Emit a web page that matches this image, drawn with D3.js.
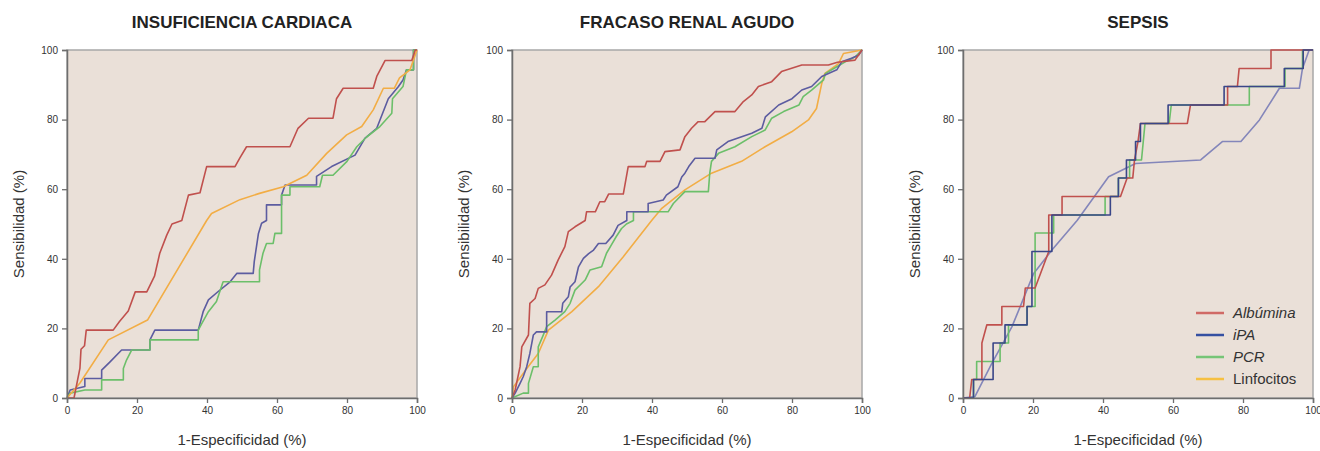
<!DOCTYPE html>
<html>
<head>
<meta charset="utf-8">
<script src="https://cdn.jsdelivr.net/npm/d3@7"></script>
<style>
  body { margin: 0; background: #fff; }
  text { font-family: Arial, "Liberation Sans", sans-serif; }
</style>
</head>
<body>
<div id="chart"></div>
<script>
// panel titles, axis ticks and series names
var panelTitles = ["INSUFICIENCIA CARDIACA", "FRACASO RENAL AGUDO", "SEPSIS"];
var tickValues = [0, 20, 40, 60, 80, 100];
var seriesNames = ["Albúmina", "iPA", "PCR", "Linfocitos"];

// ROC points [1-especificidad, sensibilidad]
var icAlbumina = [[0,0],[2,0],[3.7,8.6],[4,14],[5,15],[5.5,19.5],[13.2,19.5],[15,22],[17.5,25],[19.5,30.5],[22.8,30.5],[25,35],[26.5,41.6],[28.5,46.8],[30,50],[32.8,51],[34.7,58.3],[38,59],[39.9,66.5],[48,66.5],[49.4,69],[51.3,72.2],[63.7,72.2],[66,77.5],[69,80.4],[76,80.4],[77,86],[78.9,89],[87.5,89],[88.5,92.4],[90.9,97],[98.5,97],[99.5,100],[100,100]];
var icIPA = [[0,0],[0.9,2.3],[5.1,3.3],[5.1,5.6],[9.9,5.6],[9.9,8],[12.3,10.4],[15.6,13.8],[23.7,13.8],[23.7,16.7],[25.1,19.5],[37.5,19.5],[38.9,24.8],[40.4,28.2],[43.2,30.6],[46.6,33.4],[48.5,35.8],[53.2,35.8],[53.5,39.2],[54.7,47.3],[55.6,50.2],[57,51],[57,55.5],[61.3,55.5],[61.3,58.3],[62.3,61.2],[71.3,61.2],[71.3,63.7],[75.6,66.5],[82.3,69.8],[85.1,74.6],[88.5,77.5],[91.8,86],[94.7,89.5],[96,91.4],[97,94.3],[99,94.3],[99,100],[100,100]];
var icPCR = [[0,0],[0.9,1.4],[5.1,2.3],[9.9,2.3],[9.9,5.2],[16.1,5.2],[16.1,8.5],[17,10.9],[18.5,13.8],[23.7,13.8],[23.7,16.7],[37.5,16.7],[37.5,19.5],[38.5,21.4],[40.4,24.8],[42.7,27.7],[44.6,33.4],[55,33.4],[55,36.8],[56,41.6],[57,44.4],[58.9,44.4],[59.4,47.3],[61.3,47.3],[61.3,58.3],[63.7,58.3],[63.7,60.7],[72.2,60.7],[73,64],[76,64],[80,68],[82.8,72.2],[85.6,75],[89.4,78],[92.8,81.8],[93,86],[96,89.5],[97,94.3],[99,94.3],[99,100],[100,100]];
var icLinfocitos = [[0,0],[3.7,4.3],[11.8,16.7],[23,22.4],[39.9,51],[41.3,53],[49.4,57],[55,58.8],[61.8,60.7],[68.5,64],[74.2,70.3],[79.9,75.6],[84.2,78],[87.5,82.8],[90.4,89],[93.5,89],[95,92],[98,94.3],[100,100]];

var fraAlbumina = [[0,0],[0.9,2.3],[2.3,9],[2.8,14.7],[4.7,18.1],[5.1,27.2],[6.6,28.6],[7.5,31.5],[9.4,32.5],[11.3,35.3],[13.2,39.7],[15.1,43.5],[16.1,47.8],[18,49.2],[20.9,51],[21.3,53.5],[23.8,53.5],[25.1,56.4],[26.5,56.4],[27.6,58.6],[31.8,58.6],[33.2,66.5],[38,66.5],[38.5,68],[42.3,68],[43.7,70.8],[48,71.3],[49.4,75.1],[51.3,77.5],[53.2,79.4],[55.1,79.4],[58,82.3],[63.7,82.3],[66.1,85.2],[68.5,87.1],[70.4,89.5],[74.2,90.9],[77,93.8],[82.8,95.7],[90.4,95.7],[93,96.5],[98,97.1],[100,100]];
var fraIPA = [[0,0],[0.9,1.4],[2.3,4.2],[3.2,6.1],[4.2,9],[5.1,12.8],[6.1,18.1],[7,19],[9.9,19],[9.9,24.8],[14.2,24.8],[14.5,27.2],[16.1,29.1],[16.6,31.9],[18,33.4],[19,37.7],[20.4,40.1],[21.9,41.5],[23.3,42.5],[24.7,44.4],[26.8,44.4],[28.9,46.8],[30.3,49.6],[32.8,51],[32.8,53.5],[38.9,53.5],[38.9,55.9],[43.2,56.9],[44.1,58.3],[47.4,60.7],[48.5,63.5],[49.4,64.6],[50.5,66.5],[52.3,68.9],[58,68.9],[58.5,71.3],[61.7,73.7],[68.5,76.1],[71.4,77.5],[72.4,80.8],[76.2,84.2],[80,86],[82.8,88.5],[85.6,89.5],[88.5,92.4],[92.8,94.3],[94.2,96.6],[97,97.6],[99,98.5],[100,100]];
var fraPCR = [[0,0],[3.2,1.4],[4.7,1.4],[4.7,4.2],[6.1,9],[7.5,9],[7.5,14.7],[8.9,18],[9.9,20.5],[12.3,22.4],[15.1,24.8],[16.6,27.2],[18,31],[20.9,33.9],[22.3,36.8],[25.6,37.7],[27,41.6],[28.4,44],[29.8,46.4],[31.3,48.7],[32.7,50],[34.7,51],[34.7,53.5],[44.6,53.5],[46.1,55.9],[49.4,59.3],[56.1,59.3],[56.5,64.6],[57,68],[59,70.3],[63.7,72.2],[68.5,75.1],[72.3,77],[74.2,80.4],[77.6,82.3],[82,84.2],[83.2,86.6],[85.6,88.5],[89,91.4],[89.6,93.3],[92.8,95.2],[95.2,96.6],[98,98],[100,100]];
var fraLinfocitos = [[0,0],[0.4,3.2],[4.6,9],[7.5,12.8],[10.4,19.5],[17.1,24.8],[24.7,32],[31.8,40.6],[39.9,51],[42.8,54.5],[49.4,59.8],[57,64.6],[65.6,68],[72.3,72.2],[79.9,76.5],[84.7,79.9],[87,83.2],[88.5,90.4],[89.4,93.3],[93.3,96.1],[94.7,99],[100,100]];

var sepAlbumina = [[0,0],[1.9,0],[2.5,5.3],[5.4,5.3],[5.4,15.8],[6.8,21],[11.1,21],[11.1,26.3],[17.3,26.3],[17.8,31.6],[20.6,31.6],[24.5,42.1],[24.5,52.6],[28.3,52.6],[28.3,57.9],[45,57.9],[46.9,63.2],[48.5,63.2],[49,68.4],[50,73.7],[50.7,78.9],[64.1,78.9],[65,84.2],[75.6,84.2],[75.6,89.5],[78.4,89.5],[78.9,94.7],[88,94.7],[88,100],[100,100]];
var sepIPA = [[0,0],[3,0],[3,5.3],[8.6,5.3],[8.6,15.8],[12,15.8],[12,21],[18.3,21],[18.3,26.3],[19.7,26.3],[19.7,42.1],[25.4,42.1],[25.4,52.6],[42.1,52.6],[42.1,57.9],[44.4,57.9],[44.4,63.2],[46.7,63.2],[46.7,68.4],[49.3,68.4],[49.3,73.7],[50.7,73.7],[50.7,78.9],[58.6,78.9],[58.6,84.2],[74.6,84.2],[74.6,89.5],[91.8,89.5],[91.8,94.7],[97.2,94.7],[97.2,100],[100,100]];
var sepPCR = [[0,0],[3,0],[3,5.3],[3.9,5.3],[3.9,10.5],[10.6,10.5],[10.6,15.8],[13,15.8],[13,21],[18.3,21],[18.3,26.3],[20.6,26.3],[20.6,47.4],[25.9,47.4],[25.9,52.6],[40.6,52.6],[40.6,57.9],[44.4,57.9],[44.4,63.2],[47.6,63.2],[47.6,68.4],[51,68.4],[52,78.9],[58.9,78.9],[59.5,84.2],[81.8,84.2],[81.8,89.5],[92,89.5],[92,94.7],[97,94.7],[97,100],[100,100]];
var sepLinfocitos = [[0,0],[3.4,0.4],[8.2,9.9],[14,20.5],[20.2,35.8],[25.4,42.5],[32.6,51],[41.6,63.6],[49.3,67.4],[67.9,68.4],[74.1,73.7],[79.4,73.7],[84.7,79.9],[90.4,89],[96.1,89],[97,94.7],[98.9,100],[100,100]];

// colours of the series (legend), and the one line drawn differently in SEPSIS
var seriesColors = ["#c0504d", "#5c5ca0", "#6cbf6a", "#f2ad45"];
var legendColors = ["#d06a66", "#3550a2", "#76c577", "#f6c042"];
var sepsisSmoothColor = "#8486ba";
var sepsisStepColor = "#3a4688";

var panelData = [
    { title: panelTitles[0], series: [icIPA, icPCR, icLinfocitos, icAlbumina], colors: [seriesColors[1], seriesColors[2], seriesColors[3], seriesColors[0]] },
    { title: panelTitles[1], series: [fraLinfocitos, fraPCR, fraIPA, fraAlbumina], colors: [seriesColors[3], seriesColors[2], seriesColors[1], seriesColors[0]] },
    { title: panelTitles[2], series: [sepLinfocitos, sepPCR, sepAlbumina, sepIPA], colors: [sepsisSmoothColor, seriesColors[2], seriesColors[0], sepsisStepColor], legend: true }
];

var panelLefts = [67, 512, 963];

/*
 * RocPanel - one ROC plot
 */
RocPanel = function(_svg, _data, _left) {
    this.svg = _svg;
    this.data = _data;
    this.left = _left;
    this.initVis();
}

RocPanel.prototype.initVis = function() {
    var vis = this;

    vis.margin = { top: 50, left: vis.left };
    vis.width = 350;
    vis.height = 348;

    vis.g = vis.svg.append("g")
        .attr("transform", "translate(" + vis.margin.left + "," + vis.margin.top + ")");

    vis.x = d3.scaleLinear().domain([0, 100]).range([0, vis.width]);
    vis.y = d3.scaleLinear().domain([0, 100]).range([vis.height, 0]);

    // plot background
    vis.g.append("rect")
        .attr("width", vis.width)
        .attr("height", vis.height)
        .attr("fill", "#eae0d8")
        .attr("stroke", "#a8a8a8")
        .attr("stroke-width", 1.5);

    // title
    vis.svg.append("text")
        .attr("x", vis.margin.left + vis.width / 2)
        .attr("y", 28)
        .attr("text-anchor", "middle")
        .attr("font-size", 17)
        .attr("font-weight", "bold")
        .attr("fill", "#222")
        .text(vis.data.title);

    vis.updateVis();
}

RocPanel.prototype.updateVis = function() {
    var vis = this;

    var line = d3.line()
        .x(d => vis.x(d[0]))
        .y(d => vis.y(d[1]));

    vis.g.selectAll(".roc")
        .data(vis.data.series)
        .enter()
        .append("path")
        .attr("class", "roc")
        .attr("d", line)
        .attr("fill", "none")
        .attr("stroke", (d, i) => vis.data.colors[i])
        .attr("stroke-width", 1.6)
        .attr("stroke-linejoin", "round");

    // axes
    var xAxis = d3.axisBottom(vis.x).tickValues(tickValues).tickSize(5).tickPadding(4);
    var yAxis = d3.axisLeft(vis.y).tickValues(tickValues).tickSize(5).tickPadding(4);

    var gx = vis.g.append("g")
        .attr("transform", "translate(0," + vis.height + ")")
        .call(xAxis);
    var gy = vis.g.append("g").call(yAxis);

    [gx, gy].forEach(a => {
        a.select(".domain").attr("stroke", "#6e6e6e").attr("stroke-width", 1.5);
        a.selectAll(".tick line").attr("stroke", "#6e6e6e").attr("stroke-width", 1.3);
        a.selectAll(".tick text").attr("font-size", 10).attr("fill", "#333")
            .attr("font-family", "Arial, 'Liberation Sans', sans-serif");
    });

    // axis labels
    vis.g.append("text")
        .attr("x", vis.width / 2)
        .attr("y", vis.height + 47)
        .attr("text-anchor", "middle")
        .attr("font-size", 15)
        .attr("fill", "#333")
        .text("1-Especificidad (%)");

    vis.g.append("text")
        .attr("transform", "translate(-43," + (vis.height / 2) + ") rotate(-90)")
        .attr("text-anchor", "middle")
        .attr("font-size", 15)
        .attr("fill", "#333")
        .text("Sensibilidad (%)");

    if (vis.data.legend) {
        var leg = vis.g.append("g")
            .attr("transform", "translate(" + (vis.width - 117) + "," + (vis.height - 85) + ")");

        var rows = leg.selectAll(".leg")
            .data(seriesNames)
            .enter()
            .append("g")
            .attr("transform", (d, i) => "translate(0," + i * 22 + ")");

        rows.append("line")
            .attr("x1", 0).attr("x2", 28)
            .attr("stroke", (d, i) => legendColors[i])
            .attr("stroke-width", 2.5);

        rows.append("text")
            .attr("x", 37)
            .attr("y", 5)
            .attr("font-size", 15)
            .attr("fill", "#333")
            .attr("font-style", (d, i) => i < 3 ? "italic" : "normal")
            .text(d => d);
    }
}

var svg = d3.select("#chart").append("svg")
    .attr("width", 1320)
    .attr("height", 451);

panelData.forEach((p, i) => new RocPanel(svg, p, panelLefts[i]));
</script>
</body>
</html>
